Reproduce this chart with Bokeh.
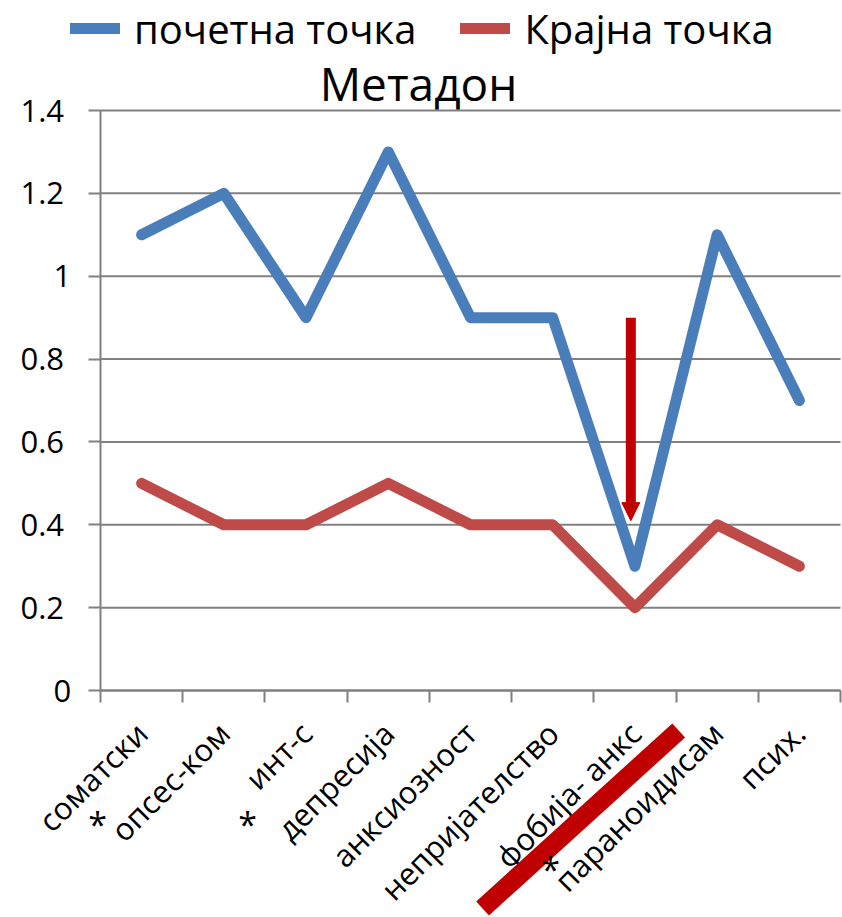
import math
from bokeh.plotting import figure
from bokeh.models import (Range1d, FixedTicker, Legend, LegendItem, Arrow,
                          NormalHead, Label, LinearAxis, ColumnDataSource)
from bokeh.embed import file_html
from bokeh.resources import INLINE

# ---- data ----
categories = ["соматски", "опсес-ком", "инт-с", "депресија", "анксиозност",
              "непријателство", "фобија- анкс", "параноидисам", "псих."]
start_values = [1.1, 1.2, 0.9, 1.3, 0.9, 0.9, 0.3, 1.1, 0.7]
end_values = [0.5, 0.4, 0.4, 0.5, 0.4, 0.4, 0.2, 0.4, 0.3]
series_names = ["почетна точка", "Крајна точка"]
y_ticks = [0, 0.2, 0.4, 0.6, 0.8, 1.0, 1.2, 1.4]
y_tick_labels = ["0", "0.2", "0.4", "0.6", "0.8", "1", "1.2", "1.4"]
title_text = "Метадон"
star_text = "*"

# ---- styling / annotation placement ----
FONT = "Open Sans"
BLUE = "#4A7EBB"
RED = "#BE4B48"
MARK = "#C00000"
GRAY = "#808080"

star_positions = [(-0.036, -0.3227), (1.788, -0.3227), (5.474, -0.4313)]
arrow_pos = dict(x_start=6.45, y_start=0.9, x_end=6.45, y_end=0.41)
slash_pos = dict(x_start=4.647, y_start=-0.526, x_end=7.032, y_end=-0.0966)
title_pos = (3.868, 1.4665)

n = len(categories)
Y_MAX = y_ticks[-1]
X_PX = 740 / n          # pixels per category
Y_PX = 580 / Y_MAX      # pixels per unit
centers = [i + 0.5 for i in range(n)]
source = ColumnDataSource(dict(x=centers, start=start_values, end=end_values))
grid_xs = [[0, n] for _ in y_ticks]
grid_ys = [[v, v] for v in y_ticks]

p = figure(frame_width=842, frame_height=917, title=None,
           x_range=Range1d(-100 / X_PX, n + 2 / X_PX),
           y_range=Range1d(-227 / Y_PX, Y_MAX + 110 / Y_PX),
           y_axis_location="right",
           output_backend="svg", toolbar_location=None,
           min_border=0, min_border_left=0, min_border_right=0,
           min_border_top=0, min_border_bottom=0,
           outline_line_color=None,
           background_fill_color="white", border_fill_color="white")

# ---- horizontal gridlines at the y ticks, across the categories ----
p.multi_line(xs=grid_xs, ys=grid_ys, line_color=GRAY, line_width=2)

# ---- x axis, drawn at y = 0 ----
xt = FixedTicker(ticks=centers, minor_ticks=list(range(n + 1)))
xa = p.xaxis[0]
xa.ticker = xt
xa.fixed_location = 0
xa.bounds = (0, n)
xa.major_label_overrides = {c: lab for c, lab in zip(centers, categories)}
xa.major_label_orientation = math.pi / 4
xa.major_tick_line_color = None
xa.major_tick_out = 0
xa.major_tick_in = 0
xa.minor_tick_out = 12
xa.minor_tick_in = 0
xa.minor_tick_line_color = GRAY
xa.minor_tick_line_width = 2
xa.axis_line_color = GRAY
xa.axis_line_width = 2
xa.major_label_text_font = FONT
xa.major_label_text_font_size = "31px"
xa.major_label_text_color = "black"
xa.major_label_standoff = 25
p.xgrid.visible = False
p.ygrid.visible = False

# ---- y axis, drawn at x = 0 (labels to its left) ----
yt = FixedTicker(ticks=y_ticks, minor_ticks=[])
ya = p.yaxis[0]
ya.ticker = yt
ya.fixed_location = 0
ya.bounds = (0, Y_MAX)
ya.major_label_overrides = {v: (lab if len(lab) > 1 else "")
                            for v, lab in zip(y_ticks, y_tick_labels)}
ya.major_tick_in = 12
ya.major_tick_out = 0
ya.major_tick_line_color = GRAY
ya.major_tick_line_width = 2
ya.minor_tick_line_color = None
ya.axis_line_color = GRAY
ya.axis_line_width = 2
ya.major_label_text_font = FONT
ya.major_label_text_font_size = "31px"
ya.major_label_text_color = "black"
ya.major_label_standoff = -80

short = [(v, lab) for v, lab in zip(y_ticks, y_tick_labels) if len(lab) == 1]
ya2 = LinearAxis(ticker=FixedTicker(ticks=[v for v, _ in short], minor_ticks=[]),
                 fixed_location=0,
                 major_label_overrides={v: lab for v, lab in short},
                 axis_line_color=None, major_tick_line_color=None,
                 minor_tick_line_color=None,
                 major_label_text_font=FONT, major_label_text_font_size="31px",
                 major_label_text_color="black", major_label_standoff=-53)
p.add_layout(ya2, "right")

# ---- series ----
r1 = p.line("x", "start", source=source, line_width=11, line_color=BLUE,
            line_join="round", line_cap="round")
r2 = p.line("x", "end", source=source, line_width=11, line_color=RED,
            line_join="round", line_cap="round")

# ---- legend (top) ----
legend = Legend(items=[LegendItem(label=series_names[0], renderers=[r1]),
                       LegendItem(label=series_names[1], renderers=[r2])],
                location=(70, 861), orientation="horizontal",
                glyph_width=50, glyph_height=56, label_height=56,
                label_standoff=14, spacing=44, padding=0, margin=0,
                border_line_alpha=0, background_fill_alpha=0,
                label_text_font=FONT, label_text_font_size="40px",
                label_text_color="black", label_text_baseline="middle")
p.add_layout(legend, "center")

# ---- title ----
p.add_layout(Label(x=title_pos[0], y=title_pos[1], text=title_text,
                   text_font=FONT, text_font_size="46px", text_align="center",
                   text_baseline="alphabetic", text_color="black"))

# ---- annotations ----
p.add_layout(Arrow(end=NormalHead(size=18, fill_color=MARK, line_color=MARK),
                   line_color=MARK, line_width=10, **arrow_pos))
p.add_layout(Arrow(start=None, end=None, line_color=MARK, line_width=19,
                   **slash_pos))
for sx, sy in star_positions:
    p.add_layout(Label(x=sx, y=sy, text=star_text, text_font=FONT,
                       text_font_size="34px", text_align="center",
                       text_baseline="middle", text_color="black"))

open("out.html", "w").write(file_html(p, INLINE))
